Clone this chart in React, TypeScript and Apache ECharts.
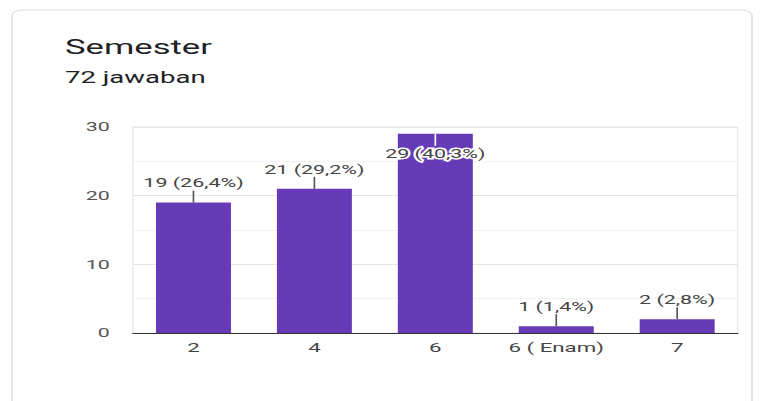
import React, { useEffect, useRef } from "react";
import * as echarts from "echarts";

const title = "Semester";
const subtitle = "72 jawaban";
const categories = ["2", "4", "6", "6 ( Enam)", "7"];
const counts = [19, 21, 29, 1, 2];
const percentLabels = ["26,4%", "29,2%", "40,3%", "1,4%", "2,8%"];
const yTicks = [0, 5, 10, 15, 20, 25, 30];

const S = 1.65; // horizontal stretch of the original screenshot
const W = 760 / S;
const H = 401;

export default function App() {
  const ref = useRef<HTMLDivElement>(null);
  useEffect(() => {
    if (!ref.current) return;
    const chart = echarts.init(ref.current, null, { renderer: "svg" });
    const labelTexts = counts.map((c, i) => `${c} (${percentLabels[i]})`);
    chart.setOption({
      animation: false,
      backgroundColor: "#ffffff",
      graphic: [
        {
          type: "rect",
          shape: { x: 12 / S, y: 10, width: 740 / S, height: 420, r: 6 },
          style: { fill: "#ffffff", stroke: "#e0e0e0", lineWidth: 1 },
          z: -10,
        },
        {
          type: "text",
          x: 65 / S,
          y: 46.5,
          style: {
            text: title,
            font: "21px Roboto",
            fill: "#202124",
            verticalAlign: "middle",
            align: "left",
          },
        },
        {
          type: "text",
          x: 65 / S,
          y: 77.5,
          style: {
            text: subtitle,
            font: "16.7px Roboto",
            fill: "#202124",
            verticalAlign: "middle",
            align: "left",
          },
        },
      ],
      grid: {
        left: 133 / S,
        right: W - 737 / S,
        top: 127,
        bottom: H - 333,
        show: true,
        borderColor: "#ececec",
        borderWidth: 1,
        backgroundColor: "transparent",
      },
      xAxis: {
        type: "category",
        data: categories,
        axisLine: { show: true, lineStyle: { color: "#333333", width: 1 } },
        axisTick: { show: false },
        axisLabel: {
          interval: 0,
          hideOverlap: false,
          color: "#444444",
          fontFamily: "Roboto",
          fontSize: 13.5,
          margin: 7,
        },
        splitLine: { show: false },
      },
      yAxis: {
        type: "value",
        min: yTicks[0],
        max: yTicks[yTicks.length - 1],
        interval: 5,
        axisLine: { show: false },
        axisTick: { show: false },
        axisLabel: {
          color: "#555555",
          fontFamily: "Roboto",
          fontSize: 13,
          margin: 14,
          formatter: (v: number) => (v % 10 === 0 ? String(v) : ""),
        },
        splitLine: {
          show: true,
          lineStyle: { color: ["#e4e4e4", "#f1f1f1"], width: 1 },
        },
      },
      series: [
        {
          type: "bar",
          data: counts,
          barWidth: "62%",
          itemStyle: { color: "#673ab7" },
          z: 2,
        },
        {
          type: "custom",
          data: counts.map((c, i) => [i, c]),
          z: 5,
          renderItem: (params: any, api: any) => {
            const i = params.dataIndex;
            const v = api.value(1);
            const pt = api.coord([api.value(0), v]);
            const top = params.coordSys.y;
            const inside = pt[1] - 27 < top;
            const textY = inside ? pt[1] + 20 : pt[1] - 19.5;
            const lineEnd = inside ? pt[1] + 12 : pt[1] - 12;
            return {
              type: "group",
              children: [
                {
                  type: "line",
                  shape: { x1: pt[0], y1: pt[1], x2: pt[0], y2: lineEnd },
                  style: {
                    stroke: inside ? "#ffffff" : "#555555",
                    lineWidth: 1,
                  },
                },
                {
                  type: "text",
                  x: pt[0],
                  y: textY,
                  style: {
                    text: labelTexts[i],
                    font: "13px Roboto",
                    fill: "#444444",
                    align: "center",
                    verticalAlign: "middle",
                    stroke: inside ? "#ffffff" : "transparent",
                    lineWidth: inside ? 3 : 0,
                  },
                },
              ],
            };
          },
        },
      ],
    });
    return () => chart.dispose();
  }, []);

  return (
    <div
      style={{
        position: "fixed",
        left: 0,
        top: 0,
        width: 760,
        height: H,
        overflow: "hidden",
        background: "#ffffff",
      }}
    >
      <div
        ref={ref}
        style={{
          width: W,
          height: H,
          transform: `scaleX(${S})`,
          transformOrigin: "0 0",
        }}
      />
    </div>
  );
}
